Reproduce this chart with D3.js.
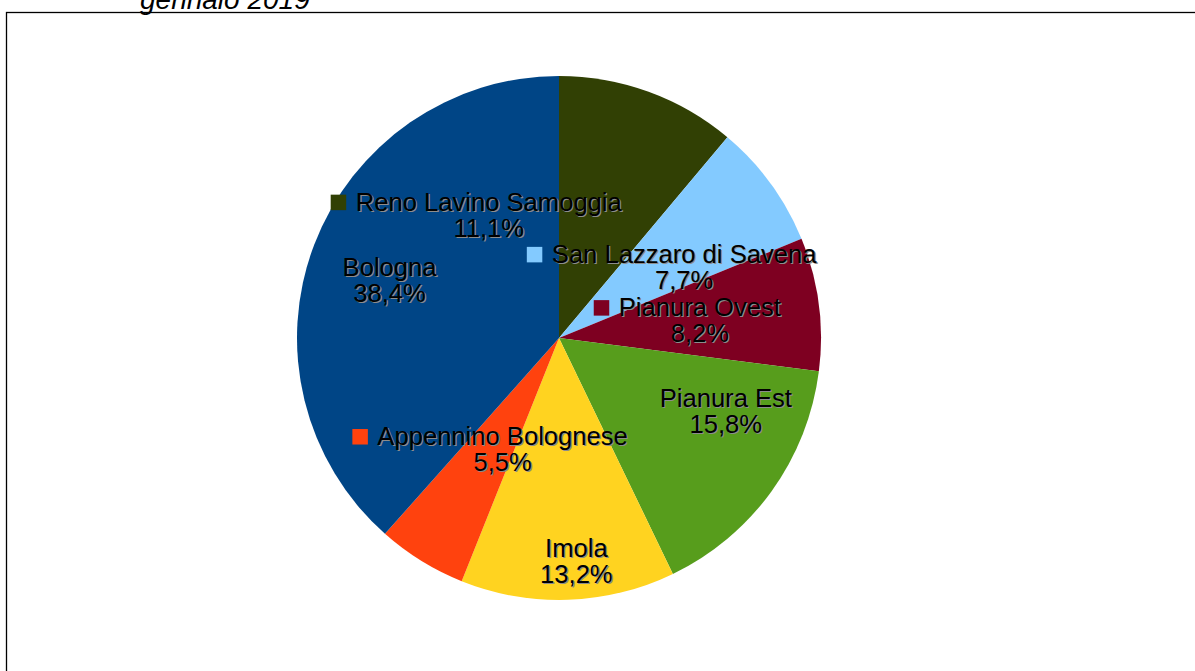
<!DOCTYPE html>
<html>
<head>
<meta charset="utf-8">
<script src="https://cdn.jsdelivr.net/npm/d3@7"></script>
<style>
  html, body { margin: 0; padding: 0; background: #fff; }
  svg { display: block; }
</style>
</head>
<body>
<svg id="chart" width="1195" height="671"></svg>
<script>
// Distretti (share of total, %)
const districts = [
  "Reno Lavino Samoggia",
  "San Lazzaro di Savena",
  "Pianura Ovest",
  "Pianura Est",
  "Imola",
  "Appennino Bolognese",
  "Bologna"
];
const shares = [11.1, 7.7, 8.2, 15.8, 13.2, 5.5, 38.4];
const valueLabels = ["11,1%", "7,7%", "8,2%", "15,8%", "13,2%", "5,5%", "38,4%"];
// which labels carry a legend key square
const showKey = [true, true, true, false, false, true, false];
const titleLine = "gennaio 2019";

const palette = ["#314004", "#83caff", "#7e0021", "#579d1c", "#ffd320", "#ff420e", "#004586"];

// label nudges relative to the slice centroid (px)
const labelShift = [
  [-133, 45], [-23, 33], [-41, 2], [18, -38], [11, 36], [40, -49], [2, 3]
];

const W = 1195, H = 671;
const cx = 559, cy = 338, R = 262;
const fontSize = 25.6, lineStep = 26;

const svg = d3.select("#chart");

// frame
svg.append("rect")
  .attr("x", 6.5).attr("y", 12.5)
  .attr("width", 1300).attr("height", 800)
  .attr("fill", "none").attr("stroke", "#000").attr("stroke-width", 1.3);

// title (second line, partially above the frame)
svg.append("text")
  .attr("x", 140).attr("y", 8.5)
  .attr("font-family", "Liberation Sans, Arial, sans-serif")
  .attr("font-style", "italic")
  .attr("font-size", 28)
  .attr("fill", "#000")
  .text(titleLine);

const data = districts.map((d, i) => ({ name: d, value: shares[i], label: valueLabels[i], key: showKey[i], color: palette[i], shift: labelShift[i] }));

const pie = d3.pie().value(d => d.value).sort(null);
const arcs = pie(data);
const arc = d3.arc().innerRadius(0).outerRadius(R);
const labelArc = d3.arc().innerRadius(R * 0.7).outerRadius(R * 0.7);

const g = svg.append("g").attr("transform", `translate(${cx},${cy})`);

g.selectAll("path.slice")
  .data(arcs)
  .join("path")
  .attr("class", "slice")
  .attr("d", arc)
  .attr("fill", d => d.data.color);

// labels
const lg = g.append("g")
  .attr("font-family", "Liberation Sans, Arial, sans-serif")
  .attr("font-size", fontSize);

arcs.forEach(a => {
  const [px, py] = labelArc.centroid(a);
  const x = px + a.data.shift[0];
  const y = py + a.data.shift[1];
  const lines = [a.data.name, a.data.label];
  const grp = lg.append("g").attr("transform", `translate(${x},${y})`);

  // soft drop shadow
  lines.forEach((t, k) => {
    grp.append("text")
      .attr("x", 1.2).attr("y", k * lineStep + 1.2)
      .attr("text-anchor", "middle")
      .attr("fill", "#8c8c8c")
      .text(t);
  });
  const texts = lines.map((t, k) =>
    grp.append("text")
      .attr("x", 0).attr("y", k * lineStep)
      .attr("text-anchor", "middle")
      .attr("fill", "#000")
      .text(t)
  );

  if (a.data.key) {
    const w = texts[0].node().getComputedTextLength();
    grp.append("rect")
      .attr("x", -w / 2 - 25).attr("y", -16)
      .attr("width", 15.5).attr("height", 15.5)
      .attr("fill", a.data.color);
  }
});
</script>
</body>
</html>
